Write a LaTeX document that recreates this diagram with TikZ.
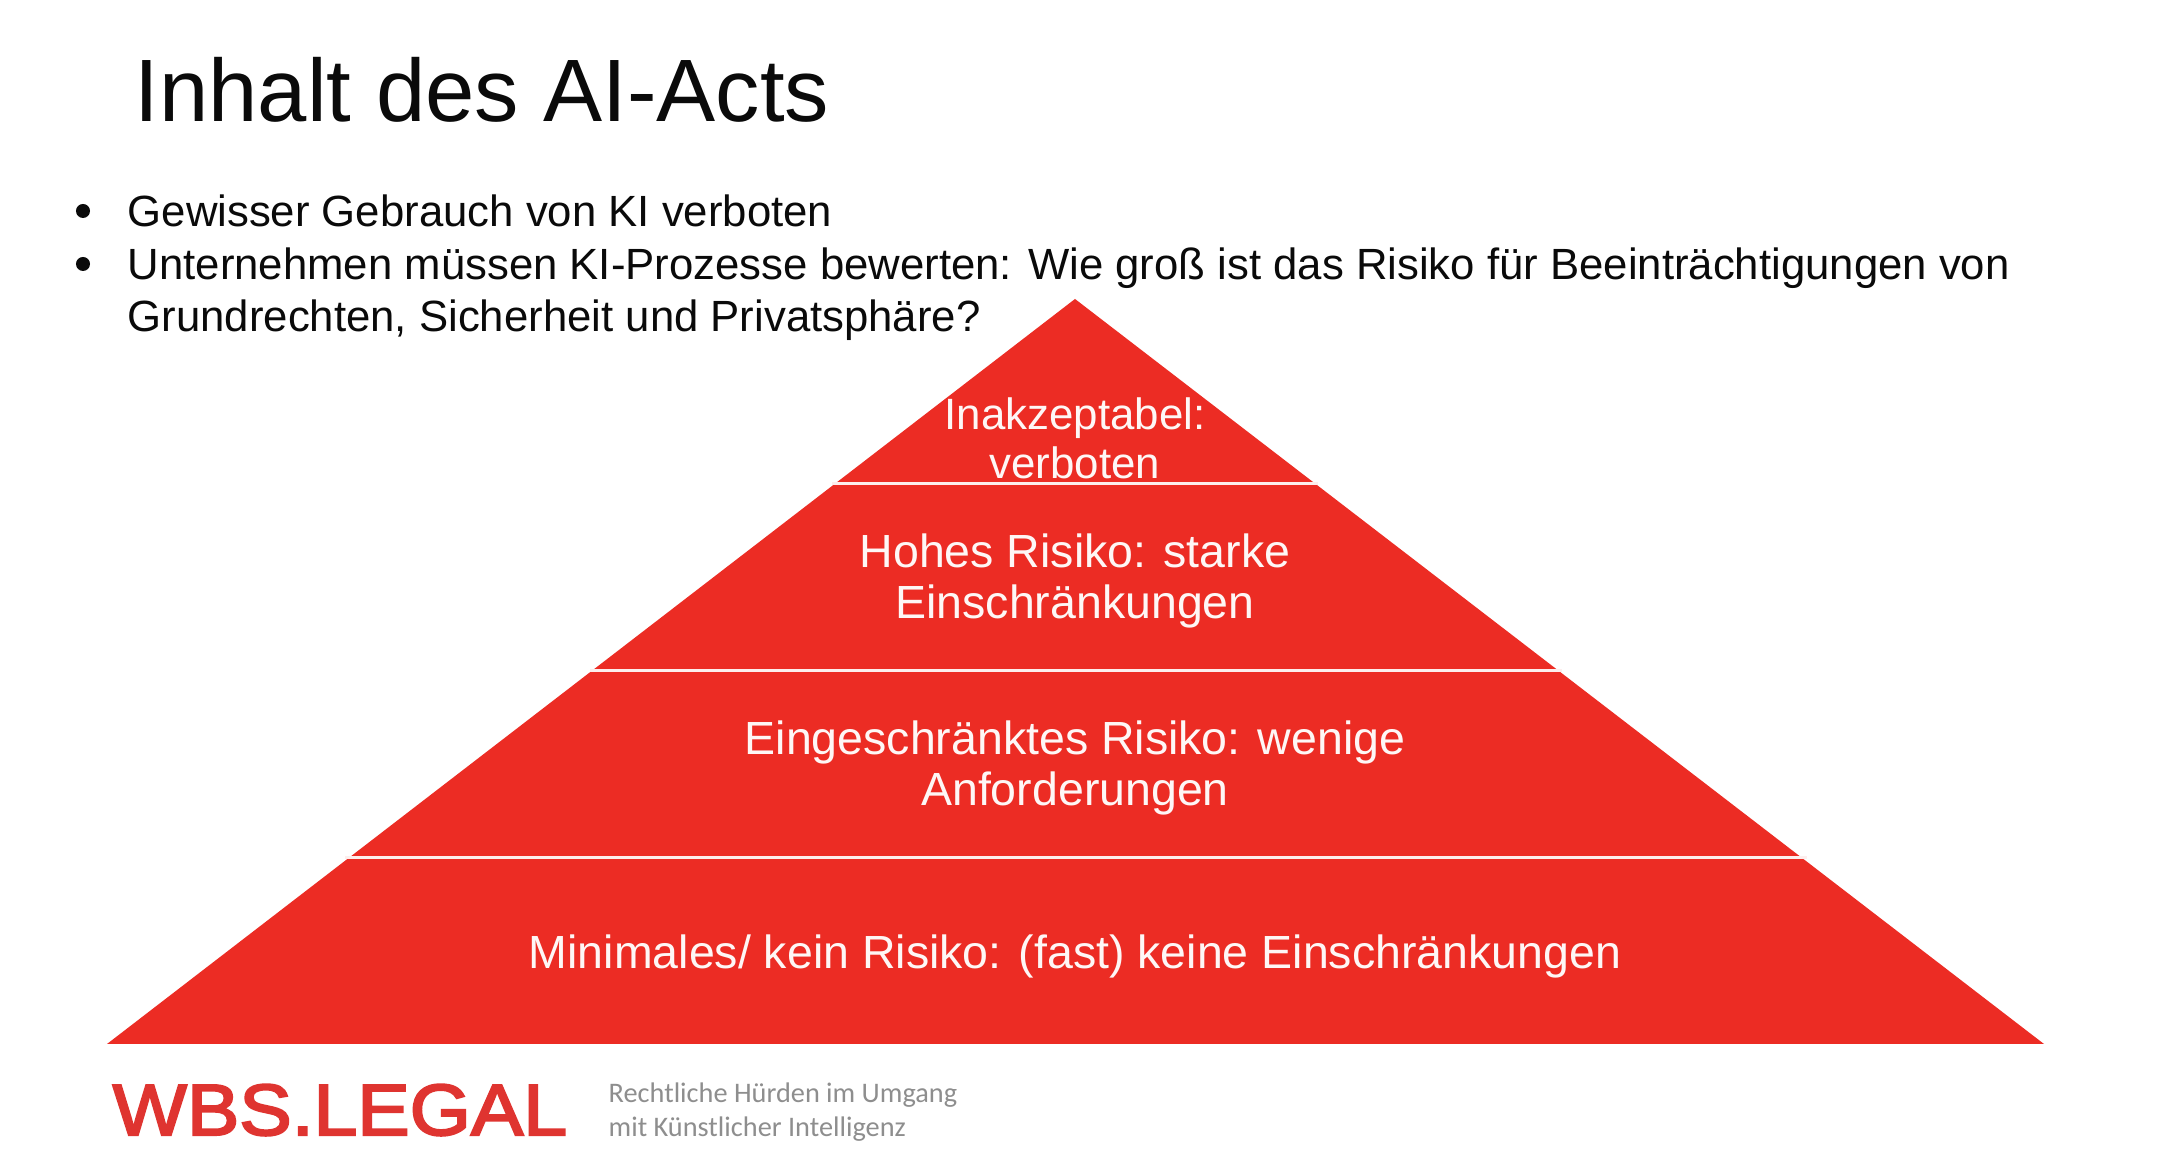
\documentclass[tikz,border=0pt]{standalone}
\usepackage{fontspec}
\setmainfont{Liberation Sans}
\newfontfamily\subfont{Carlito}
\newfontfamily\logofont[FakeBold=3,FakeStretch=1.085]{Liberation Sans}
\definecolor{wbsred}{HTML}{EC2C24}
\definecolor{logored}{HTML}{DF3430}
\definecolor{subgray}{HTML}{8E8E8E}
\definecolor{ink}{HTML}{0A0A0A}
\tikzset{
  pxgrid/.style={x=0.01cm,y=-0.01cm},
  title/.style={anchor=base west,inner sep=0,text=ink,font=\fontsize{25.2}{28}\selectfont},
  bodyline/.style={anchor=base west,inner sep=0,text=ink,font=\fontsize{12.43}{15}\selectfont},
  bulletdot/.style={circle,fill=ink,inner sep=0,minimum size=0.14cm},
  level/.style={fill=wbsred,draw=none},
  sepline/.style={draw=white!92!wbsred,line width=0.85pt},
  pyrtext/.style={align=center,inner sep=0,text=white!96!wbsred,font=\fontsize{13.22}{14.45}\selectfont},
  pyrtop/.style={align=center,inner sep=0,text=white!96!wbsred,font=\fontsize{12.47}{13.9}\selectfont},
  logo/.style={anchor=base west,inner sep=0,text=logored,font=\logofont\fontsize{20.6}{24}\selectfont},
  subline/.style={anchor=west,align=left,inner sep=0,text=subgray,font=\subfont\fontsize{8.05}{9.67}\selectfont}
}
\begin{document}
\begin{tikzpicture}[pxgrid]
\useasboundingbox (0,0) rectangle (2178,1165);
\fill[white] (0,0) rectangle (2178,1165);
\node[title] (head) at (134,122) {Inhalt des AI-Acts};
\node[bulletdot] (b1) at (83,211) {};
\node[bulletdot] (b2) at (83,264) {};
\node[bodyline] (l1) at (127,227) {Gewisser Gebrauch von KI verboten};
\node[bodyline] (l2) at (127,280) {Unternehmen müssen KI-Prozesse bewerten: Wie groß ist das Risiko für Beeinträchtigungen von};
\node[bodyline] (l3) at (127,332) {Grundrechten, Sicherheit und Privatsphäre?};
% pyramid
\coordinate (apex) at (1075,299);
\coordinate (bl) at (107,1044);
\coordinate (br) at (2044,1044);
\fill[level] (apex) -- (br) -- (bl) -- cycle;
\draw[sepline] (832,484) -- (1318,484);
\draw[sepline] (590,671) -- (1562,671);
\draw[sepline] (345,858) -- (1807,858);
\node[pyrtop] (t1) at (1075,438) {Inakzeptabel:\\verboten};
\node[pyrtext] (t2) at (1075,581) {Hohes Risiko: starke\\Einschränkungen};
\node[pyrtext] (t3) at (1075,768) {Eingeschränktes Risiko: wenige\\Anforderungen};
\node[pyrtext] (t4) at (1075,956) {Minimales/ kein Risiko: (fast) keine Einschränkungen};
% footer
\node[logo] (logo) at (112,1135) {WBS.LEGAL};
\node[subline] (sub) at (608,1112) {Rechtliche Hürden im Umgang\\mit Künstlicher Intelligenz};
\end{tikzpicture}
\end{document}
